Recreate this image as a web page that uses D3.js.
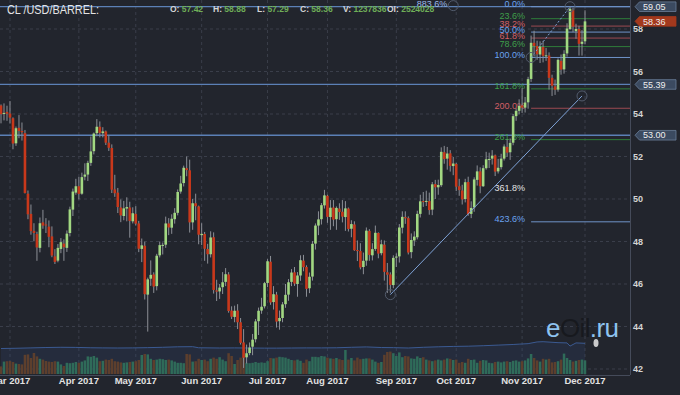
<!DOCTYPE html>
<html>
<head>
<meta charset="utf-8">
<script src="https://cdn.jsdelivr.net/npm/d3@7"></script>
<style>
  html, body { margin: 0; padding: 0; background: #22252d; overflow: hidden; }
</style>
</head>
<body>
<div id="chart"></div>
<script>
// ---- data (2017, daily, front month) ----
const dates = [
  '02-24','02-27','02-28',
  '03-01','03-02','03-03','03-06','03-07','03-08','03-09','03-10','03-13','03-14','03-15','03-16','03-17','03-20','03-21','03-22','03-23','03-24','03-27','03-28','03-29','03-30','03-31',
  '04-03','04-04','04-05','04-06','04-07','04-10','04-11','04-12','04-13','04-17','04-18','04-19','04-20','04-21','04-24','04-25','04-26','04-27','04-28',
  '05-01','05-02','05-03','05-04','05-05','05-08','05-09','05-10','05-11','05-12','05-15','05-16','05-17','05-18','05-19','05-22','05-23','05-24','05-25','05-26','05-30','05-31',
  '06-01','06-02','06-05','06-06','06-07','06-08','06-09','06-12','06-13','06-14','06-15','06-16','06-19','06-20','06-21','06-22','06-23','06-26','06-27','06-28','06-29','06-30',
  '07-03','07-05','07-06','07-07','07-10','07-11','07-12','07-13','07-14','07-17','07-18','07-19','07-20','07-21','07-24','07-25','07-26','07-27','07-28','07-31',
  '08-01','08-02','08-03','08-04','08-07','08-08','08-09','08-10','08-11','08-14','08-15','08-16','08-17','08-18','08-21','08-22','08-23','08-24','08-25','08-28','08-29','08-30','08-31',
  '09-01','09-05','09-06','09-07','09-08','09-11','09-12','09-13','09-14','09-15','09-18','09-19','09-20','09-21','09-22','09-25','09-26','09-27','09-28','09-29',
  '10-02','10-03','10-04','10-05','10-06','10-09','10-10','10-11','10-12','10-13','10-16','10-17','10-18','10-19','10-20','10-23','10-24','10-25','10-26','10-27','10-30','10-31',
  '11-01','11-02','11-03','11-06','11-07','11-08','11-09','11-10','11-13','11-14','11-15','11-16','11-17','11-20','11-21','11-22','11-24','11-27','11-28','11-29','11-30',
  '12-01'
];

const opens = [
  54.40, 54.00, 54.10,
  54.02, 53.80, 52.62, 53.35, 53.20, 53.10, 50.25, 49.30, 48.50, 48.35, 47.70, 48.90, 48.80, 48.70, 48.24, 47.30, 47.10, 47.65, 47.90, 47.70, 48.40, 49.50, 50.30,
  50.60, 50.25, 51.05, 51.15, 51.70, 52.25, 53.10, 53.40, 53.10, 53.18, 52.65, 52.40, 50.45, 50.30, 49.60, 49.20, 49.55, 49.60, 48.95,
  49.30, 48.85, 47.65, 47.80, 45.50, 46.25, 46.45, 45.90, 47.35, 47.80, 47.85, 48.85, 48.65, 49.05, 49.35, 50.35, 50.75, 51.45, 51.35, 48.90, 49.80, 49.65,
  48.30, 48.35, 47.65, 47.40, 48.20, 45.70, 45.65, 45.85, 46.10, 46.45, 44.75, 44.45, 44.75, 44.20, 43.25, 42.55, 42.75, 43.05, 43.40, 44.25, 44.75, 44.95,
  46.05, 47.05, 45.15, 45.50, 44.25, 44.40, 45.05, 45.50, 46.10, 46.55, 46.00, 46.40, 47.10, 46.80, 45.80, 46.35, 47.90, 48.75, 49.05, 49.70,
  50.15, 49.15, 49.60, 49.05, 49.55, 49.40, 49.15, 49.55, 48.60, 48.80, 47.60, 47.55, 46.80, 47.10, 48.50, 47.35, 47.65, 48.40, 47.45, 47.85, 46.55, 46.45, 45.95,
  47.25, 47.30, 48.65, 49.15, 49.10, 47.50, 48.05, 48.20, 49.30, 49.90, 49.90, 49.90, 49.50, 50.70, 50.55, 50.65, 52.20, 51.90, 52.15, 51.55,
  51.65, 50.60, 50.40, 50.00, 50.80, 49.30, 49.60, 50.90, 51.30, 50.60, 51.45, 51.85, 51.90, 52.05, 51.30, 51.50, 51.90, 52.45, 52.20, 52.65, 53.90, 54.15,
  54.40, 54.30, 54.55, 55.65, 57.35, 57.20, 56.80, 57.15, 56.75, 56.75, 55.70, 55.30, 55.15, 56.50, 56.10, 56.85, 58.00, 58.90, 57.90, 58.00, 57.30,
  57.42
];

const highs = [
  54.45, 54.50, 54.39,
  54.61, 53.84, 53.41, 53.95, 53.60, 53.25, 50.40, 49.74, 48.86, 48.46, 49.13, 49.49, 49.10, 48.99, 48.71, 47.64, 47.88, 48.16, 48.10, 48.52, 49.64, 50.49, 50.95,
  51.04, 51.24, 51.68, 51.80, 52.94, 53.13, 53.76, 53.65, 53.38, 53.22, 52.98, 52.57, 51.14, 50.52, 49.98, 49.91, 50.08, 49.87, 49.61,
  49.66, 48.97, 48.14, 47.99, 46.30, 47.11, 46.55, 47.42, 48.00, 47.95, 49.17, 49.10, 49.28, 49.57, 50.45, 51.09, 51.57, 52.00, 51.85, 50.00, 50.25, 49.69,
  48.86, 48.45, 47.89, 48.48, 48.43, 46.20, 46.00, 46.56, 46.75, 46.56, 44.95, 44.98, 45.05, 44.40, 43.88, 43.15, 43.25, 43.65, 44.35, 44.89, 45.35, 46.10,
  47.17, 47.32, 45.90, 45.63, 44.75, 45.15, 46.00, 46.23, 46.70, 46.80, 46.56, 47.35, 47.37, 46.88, 46.54, 48.02, 48.85, 49.42, 49.81, 50.43,
  50.20, 49.95, 49.95, 49.65, 49.80, 49.95, 49.90, 49.60, 49.00, 48.95, 48.05, 47.92, 47.48, 48.66, 48.58, 47.92, 48.75, 48.43, 48.08, 48.05, 46.99, 46.55, 47.35,
  47.44, 48.82, 49.42, 49.42, 49.18, 48.38, 48.48, 49.45, 50.20, 50.33, 50.39, 50.30, 50.80, 50.90, 50.91, 52.43, 52.50, 52.45, 52.30, 51.98,
  51.70, 50.95, 50.67, 50.95, 51.05, 49.89, 51.02, 51.58, 51.49, 51.59, 52.22, 52.18, 52.30, 52.09, 51.89, 52.13, 52.57, 52.80, 52.85, 54.00, 54.27, 54.69,
  55.22, 54.80, 55.75, 57.69, 57.92, 57.45, 57.42, 57.44, 57.11, 56.90, 55.85, 55.62, 56.62, 56.80, 57.00, 58.27, 59.05, 59.00, 58.25, 58.15, 57.95,
  58.88
];

const lows = [
  53.56, 53.70, 53.68,
  53.55, 52.34, 52.50, 52.86, 52.75, 50.26, 49.05, 48.32, 48.01, 47.09, 47.49, 48.60, 48.40, 47.73, 47.26, 46.94, 47.02, 47.45, 47.09, 47.51, 48.24, 49.20, 50.20,
  49.98, 50.20, 50.88, 50.85, 51.56, 52.10, 52.95, 52.90, 52.90, 52.54, 52.26, 50.28, 50.10, 49.34, 48.91, 49.00, 48.95, 48.18, 48.85,
  48.75, 47.50, 47.03, 45.27, 43.76, 45.91, 45.58, 45.70, 47.25, 47.39, 47.70, 48.30, 48.36, 48.84, 49.23, 50.25, 50.59, 51.07, 48.42, 48.55, 49.00, 47.87,
  47.83, 47.09, 46.96, 47.25, 45.55, 45.20, 45.30, 45.53, 45.90, 44.65, 44.35, 44.20, 43.88, 43.15, 42.05, 42.26, 42.65, 42.65, 43.25, 43.60, 44.60, 44.85,
  45.85, 45.02, 44.80, 43.95, 43.85, 44.20, 44.88, 45.21, 45.90, 45.91, 45.40, 46.15, 46.60, 45.40, 45.57, 46.16, 47.62, 48.30, 48.80, 49.55,
  48.88, 48.55, 48.72, 48.55, 49.02, 48.90, 48.50, 48.47, 48.20, 47.56, 47.08, 46.69, 46.46, 46.86, 47.09, 47.11, 47.56, 47.21, 47.35, 46.16, 45.58, 45.59, 45.80,
  46.80, 47.01, 48.38, 48.83, 47.39, 47.21, 47.79, 48.10, 49.13, 49.63, 49.67, 49.26, 49.24, 50.00, 50.20, 50.57, 51.66, 51.38, 51.29, 51.12,
  50.37, 50.15, 49.74, 49.84, 49.21, 49.10, 49.40, 50.63, 50.27, 50.57, 51.38, 51.46, 51.62, 51.08, 51.20, 51.39, 51.81, 51.98, 51.84, 52.53, 53.68, 53.98,
  54.05, 54.07, 54.25, 55.51, 56.70, 56.55, 56.40, 56.43, 56.50, 55.15, 54.85, 54.90, 55.05, 55.85, 55.90, 56.70, 57.95, 57.85, 57.54, 56.75, 56.75,
  57.29
];

const closes = [
  53.99, 54.05, 54.01,
  53.83, 52.61, 53.33, 53.20, 53.14, 50.28, 49.28, 48.49, 48.40, 47.72, 48.86, 48.75, 48.78, 48.22, 47.34, 47.04, 47.70, 47.97, 47.73, 48.37, 49.51, 50.35, 50.60,
  50.24, 51.03, 51.15, 51.70, 52.24, 53.08, 53.40, 53.11, 53.18, 52.65, 52.41, 50.44, 50.27, 49.62, 49.23, 49.56, 49.62, 48.97, 49.33,
  48.84, 47.66, 47.82, 45.52, 46.22, 46.43, 45.88, 47.33, 47.83, 47.84, 48.85, 48.66, 49.07, 49.35, 50.33, 50.73, 51.47, 51.36, 48.90, 49.80, 49.66, 48.32,
  48.36, 47.66, 47.40, 48.19, 45.72, 45.64, 45.83, 46.08, 46.46, 44.73, 44.46, 44.74, 44.20, 43.23, 42.53, 42.74, 43.01, 43.38, 44.24, 44.74, 44.93, 46.04,
  47.07, 45.13, 45.52, 44.23, 44.40, 45.04, 45.49, 46.08, 46.54, 46.02, 46.40, 47.12, 46.79, 45.77, 46.34, 47.89, 48.75, 49.04, 49.71, 50.17,
  49.16, 49.59, 49.03, 49.58, 49.39, 49.17, 49.56, 48.59, 48.82, 47.59, 47.55, 46.78, 47.09, 48.51, 47.37, 47.64, 48.41, 47.43, 47.87, 46.57, 46.44, 45.96, 47.23,
  47.29, 48.66, 49.16, 49.09, 47.48, 48.07, 48.23, 49.30, 49.89, 49.89, 49.91, 49.48, 50.69, 50.55, 50.66, 52.22, 51.88, 52.14, 51.56, 51.67,
  50.58, 50.42, 49.98, 50.79, 49.29, 49.58, 50.92, 51.30, 50.60, 51.45, 51.87, 51.88, 52.04, 51.29, 51.47, 51.90, 52.47, 52.18, 52.64, 53.90, 54.15, 54.38,
  54.30, 54.54, 55.64, 57.35, 57.20, 56.81, 57.17, 56.74, 56.76, 55.70, 55.33, 55.14, 56.55, 56.09, 56.83, 58.02, 58.95, 58.11, 58.00, 57.30, 57.40,
  58.36
];

// volume, thousands of contracts
const volumes = [
  380, 620, 640,
  650, 600, 520, 500, 480, 960, 980, 800, 1050, 880, 760, 720, 650, 620, 600, 640, 620, 480, 400, 560, 540, 560, 600,
  560, 620, 680, 880, 860, 900, 820, 640, 660, 720, 700, 760, 640, 620, 580, 560, 580, 600, 620,
  640, 700, 950, 1000, 980, 760, 700, 720, 760, 740, 700, 720, 680, 620, 560, 560, 540, 1000, 980, 620, 640, 760,
  700, 720, 640, 760, 820, 760, 840, 720, 640, 1040, 900, 500, 700, 820, 880, 560, 540, 560, 600, 560, 580, 560,
  640, 800, 780, 820, 860, 840, 820, 760, 700, 680, 720, 660, 560, 720, 640, 860, 860, 840, 900, 880,
  820, 780, 760, 800, 740, 700, 1200, 720, 800, 680, 820, 740, 760, 780, 780, 720, 620, 560, 600, 960, 1100, 1120, 1040,
  900, 1080, 840, 900, 880, 780, 760, 880, 800, 840, 720, 680, 640, 680, 720, 680, 720, 780, 760, 700,
  720, 560, 600, 560, 760, 700, 720, 560, 660, 700, 680, 560, 540, 600, 620, 580, 620, 640, 600, 660, 680, 620,
  640, 680, 780, 1000, 800, 680, 620, 760, 720, 760, 580, 600, 640, 720, 1020, 800, 700, 620, 660, 700, 720,
  680
];

// open interest, thousands (weekly readings)
const oiDates = ['02-24','03-03','03-10','03-17','03-24','03-31','04-07','04-13','04-21','04-28',
  '05-05','05-12','05-19','05-26','05-31','06-09','06-16','06-23','06-30','07-07','07-14','07-21','07-28',
  '08-04','08-11','08-18','08-25','08-31','09-08','09-15','09-22','09-29','10-06','10-13','10-20','10-27','10-31',
  '11-03','11-08','11-10','11-17','11-22','11-24','11-28','11-30','12-01'];
const oiValues = [2100, 2120, 2150, 2180, 2200, 2190, 2160, 2150, 2140, 2150,
  2170, 2200, 2240, 2250, 2160, 2140, 2150, 2140, 2130, 2130, 2140, 2150, 2150,
  2160, 2200, 2230, 2180, 2170, 2140, 2200, 2240, 2270, 2290, 2330, 2380, 2430, 2460,
  2500, 2640, 2660, 2580, 2560, 2300, 2560, 2540, 2524];

const yTicks = [42, 44, 46, 48, 50, 52, 54, 56, 58];
const monthTicks = ['03-01','04-03','05-01','06-01','07-03','08-01','09-01','10-02','11-01','12-01'];
const monthLabels = ['Mar 2017','Apr 2017','May 2017','Jun 2017','Jul 2017','Aug 2017','Sep 2017','Oct 2017','Nov 2017','Dec 2017'];

const levelPrices = [59.05, 55.39, 53.00];
const lastClose = 58.36;

const fibHigh = 59.05, fibLow = 56.66;
const fibStart = '11-06', fibEnd = '11-24';
const fibLevels = [0, 0.236, 0.382, 0.5, 0.618, 0.786, 1, 1.618, 2, 2.618, 3.618, 4.236];
const fibKinds  = ['b','g','r','b','r','g','b','g','r','g','w','b'];

const trendDates = ['08-30', '11-30'];
const trendPrices = [45.50, 54.85];

const header = [['O:', '57.42'], ['H:', '58.88'], ['L:', '57.29'], ['C:', '58.36'], ['V:', '1237836'], ['OI:', '2524028']];
const headerX = [170, 213, 257, 300, 343, 387];

// ---- drawing ----
const W = 680, H = 395;
const plotRight = 630, plotBottom = 375;
const font = '"Liberation Sans", Arial, sans-serif';

const lineCol = { b: '#6f93c8', g: '#2f7d3a', r: '#9c4a52', w: 'none' };
const textCol = { b: '#6aa3f0', g: '#3f9f4a', r: '#d25f66', w: '#e2e2e2' };

const svg = d3.select('#chart').append('svg')
  .attr('width', W)
  .attr('height', H)
  .style('display', 'block')
  .style('background', '#22252d')
  .style('font-family', font);

svg.append('defs').append('clipPath').attr('id', 'plotclip')
  .append('rect').attr('x', 0).attr('y', 0).attr('width', plotRight).attr('height', plotBottom);

const x = d3.scalePoint(dates, [1, 585]);
const y = d3.scaleLinear([42, 58], [369, 29]);
const yVol = d3.scaleLinear([0, 1200], [374, 350]);
const yOi = d3.scaleLinear([0, 2800], [374, 340]);

const plot = svg.append('g').attr('clip-path', 'url(#plotclip)');

// grid
plot.selectAll('line.hgrid')
  .data(yTicks)
  .join('line')
    .attr('class', 'hgrid')
    .attr('x1', 0).attr('x2', plotRight)
    .attr('y1', d => y(d)).attr('y2', d => y(d))
    .attr('stroke', '#3a3e4a')
    .attr('stroke-dasharray', '3,3');

plot.selectAll('line.vgrid')
  .data(monthTicks)
  .join('line')
    .attr('class', 'vgrid')
    .attr('x1', d => x(d)).attr('x2', d => x(d))
    .attr('y1', 0).attr('y2', plotBottom)
    .attr('stroke', '#3a3e4a')
    .attr('stroke-dasharray', '3,3');

// open interest area
const oi = oiDates.map((d, i) => ({ date: d, v: oiValues[i] }));
plot.append('path')
  .datum(oi)
  .attr('d', d3.area().x(d => x(d.date)).y0(yOi(0)).y1(d => yOi(d.v)))
  .attr('fill', 'rgba(50, 72, 120, 0.22)');
plot.append('path')
  .datum(oi)
  .attr('d', d3.line().x(d => x(d.date)).y(d => yOi(d.v)))
  .attr('fill', 'none')
  .attr('stroke', '#3b5a92')
  .attr('stroke-width', 1);

const bars = dates.map((d, i) => ({
  date: d, o: opens[i], h: highs[i], l: lows[i], c: closes[i], v: volumes[i]
}));

// volume
plot.selectAll('rect.vol')
  .data(bars)
  .join('rect')
    .attr('class', 'vol')
    .attr('x', d => x(d.date) - 1.25)
    .attr('width', 2.5)
    .attr('y', d => yVol(d.v))
    .attr('height', d => yVol(0) - yVol(d.v))
    .attr('fill', d => d.c >= d.o ? '#2f6b59' : '#5d3f2d');

// horizontal user levels
plot.selectAll('line.level')
  .data(levelPrices)
  .join('line')
    .attr('class', 'level')
    .attr('x1', 0).attr('x2', plotRight)
    .attr('y1', d => y(d)).attr('y2', d => y(d))
    .attr('stroke', '#5b80b6')
    .attr('stroke-width', 1.3);

// fibonacci levels
const fibY = lv => y(fibHigh - lv * (fibHigh - fibLow));
fibLevels.forEach((lv, i) => {
  const k = fibKinds[i];
  if (k !== 'w') {
    plot.append('line')
      .attr('x1', x(fibStart)).attr('x2', plotRight)
      .attr('y1', fibY(lv)).attr('y2', fibY(lv))
      .attr('stroke', lineCol[k])
      .attr('stroke-width', 1);
  }
  plot.append('text')
    .attr('x', x(fibStart) - 6)
    .attr('y', fibY(lv) + 0.5)
    .attr('text-anchor', 'end')
    .attr('font-size', 9)
    .attr('fill', textCol[k])
    .text((lv * 100).toFixed(1) + '%');
});

// candles
const candle = plot.selectAll('g.candle')
  .data(bars)
  .join('g')
    .attr('class', 'candle');
candle.append('line')
  .attr('x1', d => x(d.date)).attr('x2', d => x(d.date))
  .attr('y1', d => y(d.h)).attr('y2', d => y(d.l))
  .attr('stroke', '#8c8f96')
  .attr('stroke-width', 1);
candle.append('rect')
  .attr('x', d => x(d.date) - 1.3)
  .attr('width', 2.6)
  .attr('y', d => y(Math.max(d.o, d.c)))
  .attr('height', d => Math.max(1, Math.abs(y(d.o) - y(d.c))))
  .attr('fill', d => d.c >= d.o ? '#a2d882' : '#c8381b');

// trend line + fib diagonal with handles
plot.append('line')
  .attr('x1', x(trendDates[0])).attr('y1', y(trendPrices[0]))
  .attr('x2', x(trendDates[1])).attr('y2', y(trendPrices[1]))
  .attr('stroke', '#7ea2d6')
  .attr('stroke-width', 1);
plot.append('line')
  .attr('x1', x(fibStart)).attr('y1', y(fibLow))
  .attr('x2', x(fibEnd)).attr('y2', y(fibHigh))
  .attr('stroke', '#7ea2d6')
  .attr('stroke-dasharray', '2,2');

const handles = [
  [trendDates[0], trendPrices[0]], [trendDates[1], trendPrices[1]],
  [fibStart, fibLow], [fibEnd, fibHigh], ['09-29', 59.1]
];
plot.selectAll('circle.handle')
  .data(handles)
  .join('circle')
    .attr('class', 'handle')
    .attr('cx', d => x(d[0])).attr('cy', d => y(d[1]))
    .attr('r', 5)
    .attr('fill', 'none')
    .attr('stroke', '#525b6c')
    .attr('stroke-width', 1);
plot.append('text')
  .attr('x', x('09-29') - 6).attr('y', 7)
  .attr('text-anchor', 'end')
  .attr('font-size', 9)
  .attr('fill', '#9db8e6')
  .text('883.6%');

// watermark
const wm = plot.append('text')
  .attr('x', 546).attr('y', 337)
  .attr('font-size', 26)
  .attr('letter-spacing', -0.6)
  .attr('fill', '#8ec3ef');
wm.append('tspan').text('e');
wm.append('tspan').attr('fill', '#15171c').attr('fill-opacity', 0.85).text('Oil');
wm.append('tspan').text('.ru');
plot.append('ellipse')
  .attr('cx', 596).attr('cy', 343).attr('rx', 2.5).attr('ry', 4)
  .attr('fill', '#e8e8e8').attr('opacity', 0.85);

// axes frame
svg.append('line')
  .attr('x1', plotRight + 0.5).attr('x2', plotRight + 0.5)
  .attr('y1', 0).attr('y2', plotBottom)
  .attr('stroke', '#454b5a');
svg.append('line')
  .attr('x1', 0).attr('x2', plotRight)
  .attr('y1', plotBottom + 0.5).attr('y2', plotBottom + 0.5)
  .attr('stroke', '#454b5a');

// y labels
svg.selectAll('text.ylab')
  .data(yTicks)
  .join('text')
    .attr('class', 'ylab')
    .attr('x', 633)
    .attr('y', d => y(d))
    .attr('dy', '0.35em')
    .attr('font-size', 9)
    .attr('font-weight', 'bold')
    .attr('fill', '#d4d4d4')
    .text(d => d);

// x labels
svg.selectAll('text.xlab')
  .data(monthTicks)
  .join('text')
    .attr('class', 'xlab')
    .attr('x', d => x(d))
    .attr('y', 383.5)
    .attr('text-anchor', 'middle')
    .attr('font-size', 9.5)
    .attr('font-weight', 'bold')
    .attr('fill', '#e2e2e2')
    .text((d, i) => monthLabels[i]);

// price badges
const badge = (price, fill, stroke) => {
  const cy = y(price);
  const g = svg.append('g');
  g.append('path')
    .attr('d', `M635,${cy} L639.5,${cy - 4.8} L676,${cy - 4.8} L676,${cy + 4.8} L639.5,${cy + 4.8} Z`)
    .attr('fill', fill)
    .attr('stroke', stroke)
    .attr('stroke-width', 0.8);
  g.append('text')
    .attr('x', 643).attr('y', cy)
    .attr('dy', '0.35em')
    .attr('font-size', 9)
    .attr('fill', '#f0f0f0')
    .text(price.toFixed(2));
};
levelPrices.forEach(p => badge(p, '#3b4a60', '#6a7d98'));
badge(lastClose, '#a3391d', '#a3391d');

// title + header
svg.append('text')
  .attr('x', 7).attr('y', 13.5)
  .attr('font-size', 13)
  .attr('textLength', 92)
  .attr('lengthAdjust', 'spacingAndGlyphs')
  .attr('fill', '#e4e4e4')
  .text('CL /USD/BARREL:');

header.forEach((h, i) => {
  const t = svg.append('text')
    .attr('x', headerX[i]).attr('y', 12)
    .attr('font-size', 8.5)
    .attr('font-weight', 'bold');
  t.append('tspan').attr('fill', '#d6d6d6').text(h[0] + ' ');
  t.append('tspan').attr('fill', '#6fae58').text(h[1]);
});
</script>
</body>
</html>
